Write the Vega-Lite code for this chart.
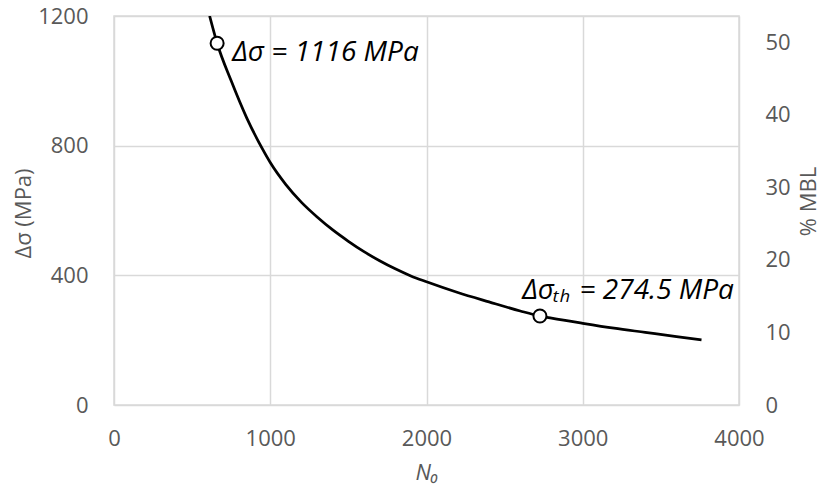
{
  "$schema": "https://vega.github.io/schema/vega-lite/v6.json",
  "autosize": "none",
  "width": 625,
  "height": 389,
  "padding": {"left": 114, "top": 16, "right": 90, "bottom": 81},
  "background": "white",
  "config": {
    "view": {"stroke": "#d9d9d9", "strokeWidth": 1.5},
    "font": "Open Sans",
    "axis": {
      "labelFont": "Open Sans", "labelFontSize": 22, "labelColor": "#595959",
      "titleFont": "Open Sans", "titleFontSize": 22, "titleColor": "#595959", "titleFontWeight": "normal",
      "gridColor": "#d9d9d9", "gridWidth": 1.5, "domain": false, "ticks": false, "format": "d"
    }
  },
  "datasets": {
    "curve": [
      {"N": 612, "ds": 1200}, {"N": 660, "ds": 1116}, {"N": 750, "ds": 1000}, {"N": 850, "ds": 885},
      {"N": 950, "ds": 790}, {"N": 1000, "ds": 748}, {"N": 1100, "ds": 680}, {"N": 1200, "ds": 625},
      {"N": 1300, "ds": 580}, {"N": 1400, "ds": 540}, {"N": 1500, "ds": 505}, {"N": 1600, "ds": 473},
      {"N": 1700, "ds": 445}, {"N": 1800, "ds": 420}, {"N": 1900, "ds": 398}, {"N": 2000, "ds": 380},
      {"N": 2200, "ds": 347}, {"N": 2400, "ds": 318}, {"N": 2600, "ds": 290}, {"N": 2726, "ds": 274.5},
      {"N": 2800, "ds": 268}, {"N": 3000, "ds": 252}, {"N": 3200, "ds": 237}, {"N": 3400, "ds": 224},
      {"N": 3600, "ds": 211}, {"N": 3760, "ds": 201}
    ],
    "pts": [
      {"N": 660, "ds": 1116, "mbl": 49.8, "label": "Δσ = 1116 MPa"},
      {"N": 2726, "ds": 274.5, "mbl": 12.26, "label": "Δσₜₕ = 274.5 MPa"}
    ]
  },
  "layer": [
    {
      "layer": [
        {
          "data": {"name": "curve"},
          "mark": {"type": "line", "color": "black", "strokeWidth": 2.75, "interpolate": "monotone", "clip": true},
          "encoding": {
            "x": {"field": "N", "type": "quantitative", "scale": {"domain": [0, 4000], "nice": false},
              "axis": {"values": [0, 1000, 2000, 3000, 4000], "labelPadding": 23, "title": "N₀", "titleFontStyle": "italic", "titleY": 67, "titleBaseline": "middle", "labelFlush": false}},
            "y": {"field": "ds", "type": "quantitative", "scale": {"domain": [0, 1200], "nice": false},
              "axis": {"values": [0, 400, 800, 1200], "labelPadding": 26, "title": "Δσ (MPa)", "titleX": -91, "titleY": 197, "titleAngle": -90, "titleAlign": "center", "titleBaseline": "middle"}}
          }
        },
        {
          "data": {"name": "pts"},
          "mark": {"type": "point", "shape": "circle", "filled": true, "fill": "white", "stroke": "black", "strokeWidth": 2, "size": 170, "opacity": 1},
          "encoding": {
            "x": {"field": "N", "type": "quantitative"},
            "y": {"field": "ds", "type": "quantitative"}
          }
        },
        {
          "data": {"name": "pts"},
          "transform": [{"filter": "datum.N < 1000"}],
          "mark": {"type": "text", "align": "left", "baseline": "middle", "dx": 15, "dy": 10, "fontSize": 28, "fontStyle": "italic", "color": "black", "font": "Open Sans"},
          "encoding": {
            "x": {"field": "N", "type": "quantitative"},
            "y": {"field": "ds", "type": "quantitative"},
            "text": {"field": "label"}
          }
        },
        {
          "data": {"name": "pts"},
          "transform": [{"filter": "datum.N > 1000"}],
          "mark": {"type": "text", "align": "right", "baseline": "middle", "dx": 194, "dy": -25, "fontSize": 28, "fontStyle": "italic", "color": "black", "font": "Open Sans"},
          "encoding": {
            "x": {"field": "N", "type": "quantitative"},
            "y": {"field": "ds", "type": "quantitative"},
            "text": {"field": "label"}
          }
        }
      ]
    },
    {
      "data": {"name": "pts"},
      "mark": {"type": "point", "opacity": 0},
      "encoding": {
        "x": {"field": "N", "type": "quantitative"},
        "y": {"field": "mbl", "type": "quantitative", "scale": {"domain": [0, 53.6], "nice": false},
          "axis": {"orient": "right", "grid": false, "values": [0, 10, 20, 30, 40, 50], "labelPadding": 26, "title": "% MBL", "titleX": 69, "titleY": 185, "titleAngle": -90, "titleAlign": "center", "titleBaseline": "middle"}}
      }
    }
  ],
  "resolve": {"scale": {"y": "independent"}}
}
